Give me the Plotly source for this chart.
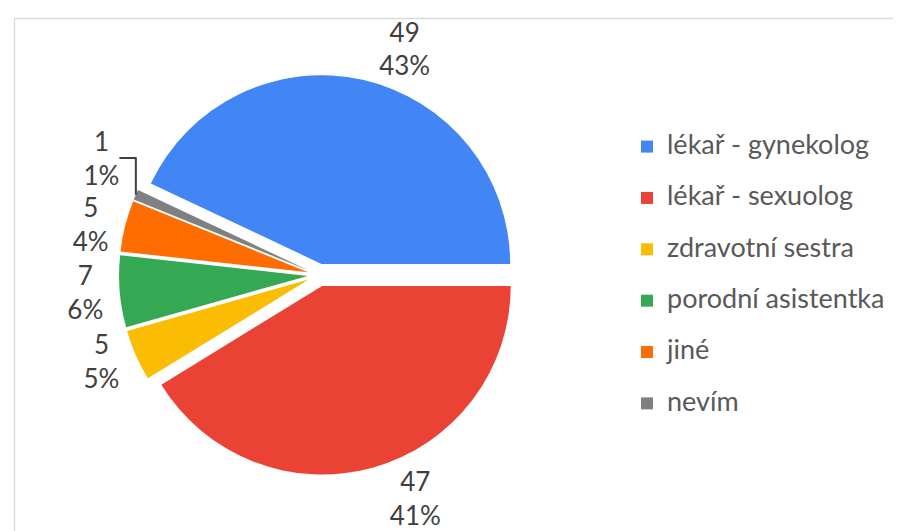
import plotly.graph_objects as go

categories = ["lékař - gynekolog", "lékař - sexuolog", "zdravotní sestra",
              "porodní asistentka", "jiné", "nevím"]
counts = [49, 47, 5, 7, 5, 1]
pct_labels = ["43%", "41%", "5%", "6%", "4%", "1%"]
colors = ["#4285F4", "#EA4335", "#FBBC04", "#34A853", "#FF6D01", "#808080"]

W, H = 901, 531
# pie centre / size in pixels
cx, cy, size = 311, 267, 400

# text drawn in a span so line spacing (from base font) can differ from glyph size
legend_labels = ["<span style='font-size:27px'>%s</span><br> " % c for c in categories]
label_tpl = "<span style='font-size:26px'>%{value}</span><br>" \
            "<span style='font-size:26px'>%{text}</span>"

fig = go.Figure(go.Pie(
    labels=legend_labels,
    values=counts,
    text=pct_labels,
    texttemplate=label_tpl,
    textposition="outside",
    textfont=dict(size=26, color="#404040"),
    marker=dict(colors=colors, line=dict(width=0)),
    pull=0.06,
    sort=False,
    direction="clockwise",
    rotation=90 - 360 * counts[0] / sum(counts),
    domain=dict(x=[(cx - size / 2) / W, (cx + size / 2) / W],
                y=[(H - cy - size / 2) / H, (H - cy + size / 2) / H]),
    hoverinfo="label+value",
    automargin=False,
))

fig.add_shape(type="rect", xref="paper", yref="paper",
              x0=6.5 / W, x1=1.02, y0=-0.05, y1=(H - 10.5) / H,
              line=dict(color="#d9d9d9", width=1.3))

fig.update_layout(
    width=W, height=H,
    margin=dict(l=0, r=0, t=0, b=0),
    paper_bgcolor="white",
    font=dict(family="Lato", color="#404040"),
    legend=dict(x=619 / W, xanchor="left", y=(H - 120) / H, yanchor="top",
                font=dict(size=18.6, color="#595959"), valign="top",
                bgcolor="rgba(0,0,0,0)"),
)

fig.write_html("out.html")
